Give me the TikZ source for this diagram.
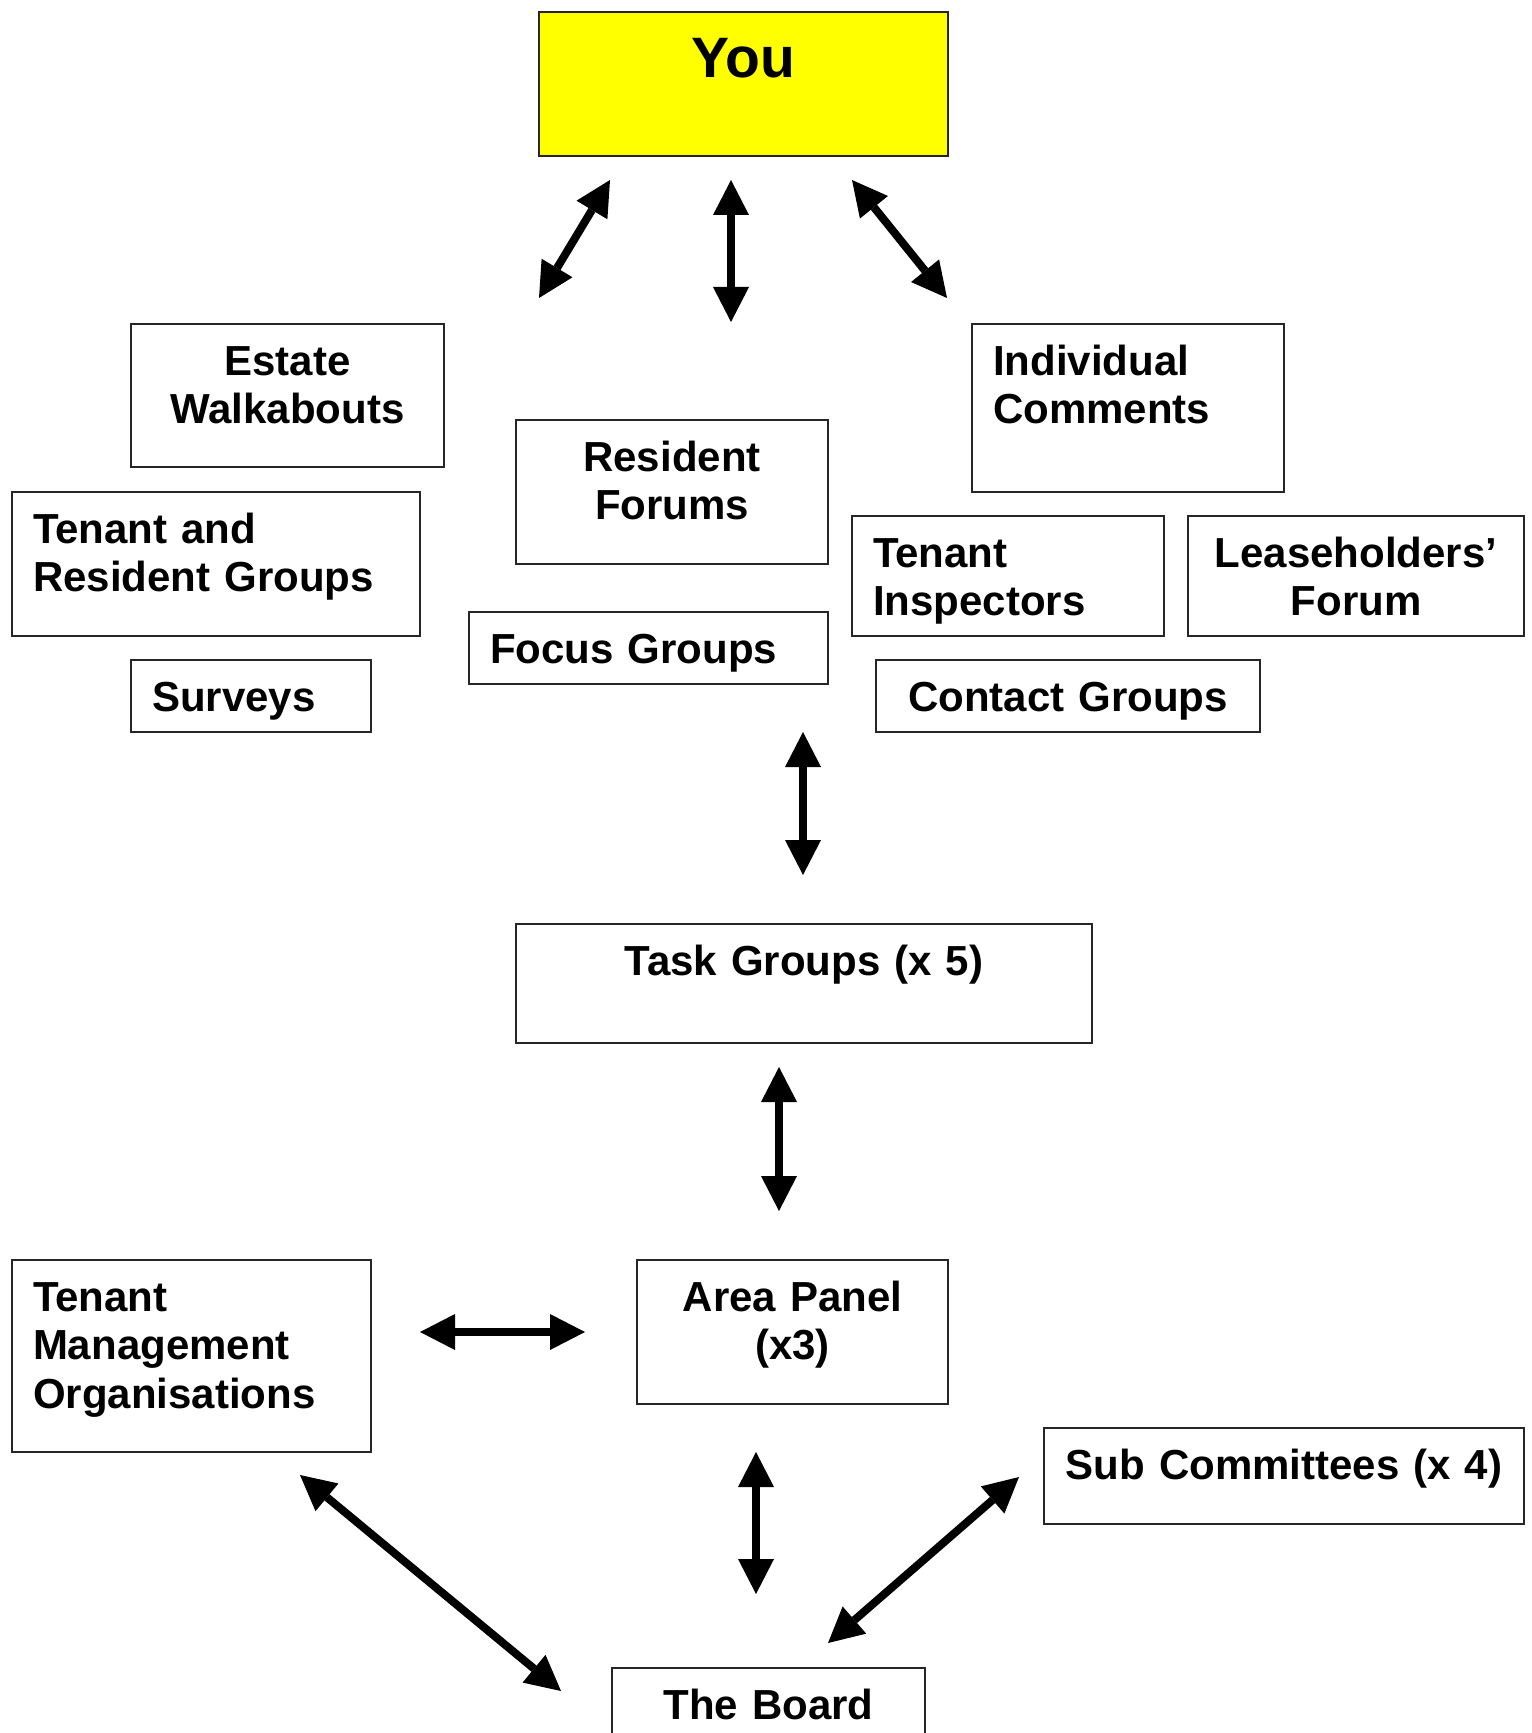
\documentclass[tikz,border=0pt]{standalone}
\usepackage{fontspec}
\setmainfont{Liberation Sans}
\usepackage{tikz}
\usetikzlibrary{arrows.meta}
\definecolor{youfill}{RGB}{255,255,0}

\begin{document}
\begin{tikzpicture}[x=0.5pt,y=-0.5pt,
  box/.style={draw=black!85, line width=1pt, anchor=north west, inner xsep=10.5pt, inner ysep=0pt,
    text height=25.5pt, font=\bfseries\fontsize{21}{24.3}\selectfont},
  link/.style={{Triangle[width=18pt,length=17.5pt,line width=0pt]}-{Triangle[width=18pt,length=17.5pt,line width=0pt]}, line width=4pt}]
\useasboundingbox (0,0) rectangle (1531,1733);

% top
\node[box, fill=youfill, text width=183.5pt, align=center, text height=33pt, text depth=39pt,
  font=\bfseries\fontsize{28.5}{33}\selectfont] (you) at (538,11) {You};

% ways of getting involved
\node[box, text width=135.5pt, align=center, text depth=46pt] (walk) at (130,323) {Estate\\Walkabouts};
\node[box, text width=183pt, align=left, text depth=46.5pt] (trg) at (11,491) {Tenant and\\Resident Groups};
\node[box, text width=99pt, align=left, text depth=10.5pt] (surv) at (130,659) {Surveys};
\node[box, text width=135pt, align=center, text depth=46.5pt] (forum) at (515,419) {Resident\\Forums};
\node[box, text width=158.5pt, align=left, text depth=10.5pt] (focus) at (468,611) {Focus Groups};
\node[box, text width=135pt, align=left, text depth=58.5pt] (indiv) at (971,323) {Individual\\Comments};
\node[box, text width=135pt, align=left, text depth=34.5pt] (insp) at (851,515) {Tenant\\Inspectors};
\node[box, text width=147pt, align=center, text depth=34.5pt] (lease) at (1187,515) {Leaseholders’\\Forum};
\node[box, text width=171pt, align=center, text depth=10.5pt] (contact) at (875,659) {Contact Groups};

% structure
\node[box, text width=267pt, align=center, text depth=34pt] (task) at (515,923) {Task Groups (x 5)};
\node[box, text width=158.5pt, align=left, text depth=70.5pt] (tmo) at (11,1259) {Tenant\\Management\\Organisations};
\node[box, text width=134.5pt, align=center, text depth=46.5pt] (area) at (636,1259) {Area Panel\\(x3)};
\node[box, text width=219pt, align=center, text depth=22.5pt] (subc) at (1043,1427) {Sub Committees (x 4)};
\node[box, text width=135.5pt, align=center, text depth=34.5pt] (board) at (611,1667) {The Board};

% arrow ends
\coordinate (youA) at (610,180);  \coordinate (walkA) at (539,298);
\coordinate (youB) at (731,180);  \coordinate (forumB) at (731,322);
\coordinate (youC) at (852,180);  \coordinate (indivC) at (947,298);
\coordinate (grpD) at (803,732);  \coordinate (taskD) at (803,875);
\coordinate (taskE) at (779,1067); \coordinate (areaE) at (779,1211);
\coordinate (tmoF) at (420,1332);  \coordinate (areaF) at (585,1332);
\coordinate (areaG) at (756,1452); \coordinate (boardG) at (756,1594);
\coordinate (tmoH) at (300,1475);  \coordinate (boardH) at (561,1691);
\coordinate (boardI) at (828,1643); \coordinate (subcI) at (1019,1477);

\foreach \a/\b in {youA/walkA, youB/forumB, youC/indivC, grpD/taskD, taskE/areaE,
  tmoF/areaF, areaG/boardG, tmoH/boardH, boardI/subcI}
  \draw[link] (\a) -- (\b);
\end{tikzpicture}
\end{document}
